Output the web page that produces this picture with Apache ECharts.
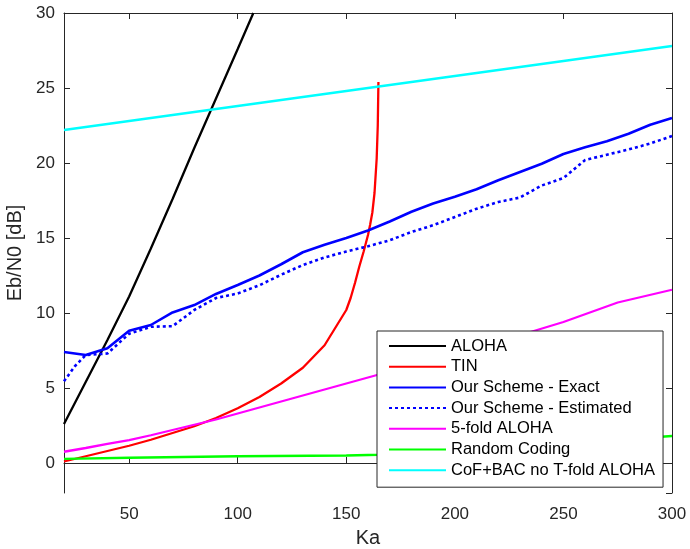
<!DOCTYPE html>
<html>
<head>
<meta charset="utf-8">
<script src="https://cdn.jsdelivr.net/npm/echarts@6/dist/echarts.min.js"></script>
<style>
html,body{margin:0;padding:0;background:#fff;}
#chart{width:690px;height:549px;}
</style>
</head>
<body>
<div id="chart"></div>
<script>
// ---- data ----
var seriesNames = ['ALOHA','TIN','Our Scheme - Exact','Our Scheme - Estimated','5-fold ALOHA','Random Coding','CoF+BAC no T-fold ALOHA'];

var alohaKa = [20,30,40,50,60,70,80,90,100,107.2];
var alohaEb = [2.6,5.4,8.2,11.1,14.3,17.6,21.0,24.3,27.6,30];

var tinKa = [20,30,40,50,60,70,80,90,100,110,120,130,140,150,152,154,156,158,160,161,162,163,164,164.5,164.8];
var tinEb = [0.1,0.45,0.8,1.15,1.55,2.0,2.45,3.0,3.65,4.4,5.3,6.35,7.85,10.2,11.0,12.0,13.1,14.1,15.2,15.9,16.7,18.0,20.3,22.5,25.4];

var exactKa = [20,30,40,50,60,70,80,90,100,110,120,130,140,150,160,170,180,190,200,210,220,230,240,250,260,270,280,290,300];
var exactEb = [7.4,7.2,7.65,8.82,9.2,10.04,10.53,11.27,11.87,12.5,13.25,14.05,14.55,15.0,15.5,16.1,16.75,17.3,17.75,18.25,18.85,19.4,19.95,20.6,21.05,21.45,21.95,22.55,23.0];

var estKa = [20,25,30,40,50,60,70,80,90,100,110,120,130,140,150,160,170,180,190,200,210,220,230,240,250,260,270,280,290,300];
var estEb = [5.45,6.45,7.2,7.3,8.62,9.08,9.12,10.2,11.0,11.3,11.85,12.55,13.2,13.7,14.1,14.45,14.85,15.4,15.85,16.4,16.95,17.4,17.7,18.5,19.0,20.2,20.55,20.9,21.3,21.8];

var fiveKa = [20,30,40,50,60,70,80,90,100,125,150,175,200,225,250,275,300];
var fiveEb = [0.75,1.0,1.27,1.53,1.85,2.2,2.55,2.9,3.3,4.3,5.3,6.3,7.3,8.3,9.4,10.7,11.55];

var rcKa = [20,50,100,150,165,200,250,290,300];
var rcEb = [0.28,0.35,0.45,0.5,0.55,0.8,1.2,1.7,1.8];

var cofKa = [20,100,150,200,250,300];
var cofEb = [22.2,23.8,24.8,25.8,26.8,27.8];

var xRange = [20,300];
var yRange = [-2,30];

function pairs(xs, ys){ return xs.map(function(x,i){ return [x, ys[i]]; }); }

var FONT = '"Liberation Sans", Arial, sans-serif';
var AX = '#262626';

function mkLine(name, xs, ys, color, type, width){
  return {
    name: name, type: 'line', data: pairs(xs, ys),
    symbol: 'none', showSymbol: false, clip: true, animation: false,
    lineStyle: {color: color, width: width || 2.3, type: type || 'solid'},
    itemStyle: {color: color}
  };
}

var chart = echarts.init(document.getElementById('chart'), null, {renderer: 'canvas'});
var option = {
  animation: false,
  backgroundColor: '#fff',
  textStyle: {fontFamily: FONT},
  grid: {left: 64, right: 18, top: 13, bottom: 56, containLabel: false, outerBoundsMode: 'none'},
  legend: {
    orient: 'vertical',
    left: 377, top: 331,
    padding: [6, 8, 8, 11],
    itemWidth: 57, itemHeight: 14, itemGap: 2.7,
    backgroundColor: '#fff',
    borderColor: '#262626', borderWidth: 1,
    itemStyle: {opacity: 0, borderWidth: 0},
    textStyle: {fontFamily: FONT, fontSize: 16.5, lineHeight: 18, color: '#000'},
    data: seriesNames
  },
  xAxis: [{
    type: 'value', min: xRange[0], max: xRange[1], splitNumber: 6,
    name: 'Ka', nameLocation: 'middle', nameGap: 35,
    nameTextStyle: {fontFamily: FONT, fontSize: 20, color: AX},
    axisLine: {show: true, lineStyle: {color: AX, width: 1}},
    axisTick: {show: true, inside: true, length: 6, lineStyle: {color: AX}},
    axisLabel: {show: true, fontFamily: FONT, fontSize: 17, color: AX, margin: 13, showMinLabel: false},
    splitLine: {show: false}
  }, {
    type: 'value', position: 'top', min: xRange[0], max: xRange[1], splitNumber: 6,
    axisLine: {show: true, onZero: false, lineStyle: {color: AX, width: 1}},
    axisTick: {show: true, inside: true, length: 6, lineStyle: {color: AX}},
    axisLabel: {show: false}, splitLine: {show: false}
  }],
  yAxis: [{
    type: 'value', min: yRange[0], max: yRange[1], splitNumber: 6,
    name: 'Eb/N0 [dB]', nameLocation: 'middle', nameGap: 32,
    nameTextStyle: {fontFamily: FONT, fontSize: 20, color: AX},
    axisLine: {show: true, onZero: false, lineStyle: {color: AX, width: 1}},
    axisTick: {show: true, inside: true, length: 6, lineStyle: {color: AX}},
    axisLabel: {show: true, fontFamily: FONT, fontSize: 17, color: AX, margin: 9, showMinLabel: false},
    splitLine: {show: false}
  }, {
    type: 'value', position: 'right', min: yRange[0], max: yRange[1], splitNumber: 6,
    axisLine: {show: true, onZero: false, lineStyle: {color: AX, width: 1}},
    axisTick: {show: true, inside: true, length: 6, lineStyle: {color: AX}},
    axisLabel: {show: false}, splitLine: {show: false}
  }],
  series: [
    mkLine(seriesNames[0], alohaKa, alohaEb, '#000000'),
    mkLine(seriesNames[1], tinKa, tinEb, '#ff0000'),
    mkLine(seriesNames[2], exactKa, exactEb, '#0000ff', 'solid', 2.6),
    mkLine(seriesNames[3], estKa, estEb, '#0000ff', [3, 3], 2.6),
    mkLine(seriesNames[4], fiveKa, fiveEb, '#ff00ff'),
    mkLine(seriesNames[5], rcKa, rcEb, '#00ff00'),
    mkLine(seriesNames[6], cofKa, cofEb, '#00ffff')
  ]
};
chart.setOption(option);
</script>
</body>
</html>
